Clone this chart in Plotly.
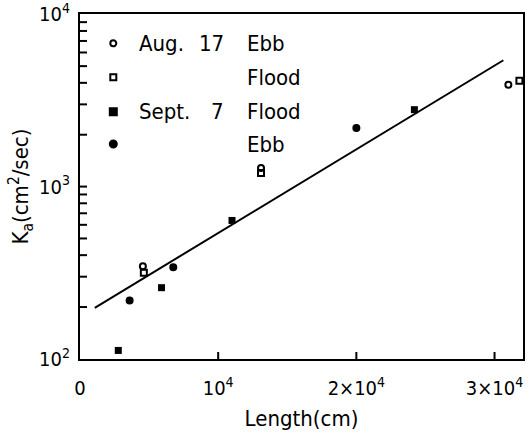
import math
import plotly.graph_objects as go

# ---- data ----
aug_ebb_len = [4550, 13100, 31000]
aug_ebb_k = [345, 1280, 3900]
aug_flood_len = [4620, 13100, 31800]
aug_flood_k = [316, 1200, 4110]
sep_flood_len = [2770, 5900, 11000, 24200]
sep_flood_k = [112, 259, 636, 2794]
sep_ebb_len = [3590, 6750, 20000]
sep_ebb_k = [218, 340, 2188]
fit_len = [1070, 30640]
fit_k = [198, 5410]

x_tickvals = [0, 10000, 20000, 30000]
x_ticktext = ["0", "10<sup>4</sup>", "2×10<sup>4</sup>", "3×10<sup>4</sup>"]
y_tickvals = [100, 1000, 10000]
y_ticktext = ["10<sup>2</sup>", "10<sup>3</sup>", "10<sup>4</sup>"]
y_minor = [m * 10 ** e for e in (2, 3) for m in range(2, 10)]

legend_rows = [
    ("Aug.", "17", "Ebb"),
    ("", "", "Flood"),
    ("Sept.", "7", "Flood"),
    ("", "", "Ebb"),
]

FONT = "DejaVu Sans Condensed, Liberation Sans Narrow, DejaVu Sans, sans-serif"
X_RANGE = [0, 32060]
Y_RANGE = [1.9995, 4.0015]

fig = go.Figure()
fig.add_trace(go.Scatter(x=fit_len, y=fit_k, mode="lines",
                         line=dict(color="black", width=2), showlegend=False))
fig.add_trace(go.Scatter(x=aug_ebb_len, y=aug_ebb_k, mode="markers",
                         marker=dict(symbol="circle-open", size=6, color="black",
                                     line=dict(width=2, color="black")), showlegend=False))
fig.add_trace(go.Scatter(x=aug_flood_len, y=aug_flood_k, mode="markers",
                         marker=dict(symbol="square-open", size=6, color="black",
                                     line=dict(width=2, color="black")), showlegend=False))
fig.add_trace(go.Scatter(x=sep_flood_len, y=sep_flood_k, mode="markers",
                         marker=dict(symbol="square", size=7, color="black"), showlegend=False))
fig.add_trace(go.Scatter(x=sep_ebb_len, y=sep_ebb_k, mode="markers",
                         marker=dict(symbol="circle", size=8, color="black"), showlegend=False))

shapes = []
# ---- inside tick marks, placed from the tick value lists ----
def yfrac(v):
    return (math.log10(v) - Y_RANGE[0]) / (Y_RANGE[1] - Y_RANGE[0])
def xfrac(v):
    return (v - X_RANGE[0]) / (X_RANGE[1] - X_RANGE[0])
for v in y_tickvals + y_minor:
    f = yfrac(v)
    if 0.003 < f < 0.997:
        shapes.append(dict(type="line", xref="paper", yref="paper", xsizemode="pixel",
                           xanchor=0, x0=0, x1=7, y0=f, y1=f,
                           line=dict(color="black", width=2)))
for v in x_tickvals:
    f = xfrac(v)
    if 0.003 < f < 0.997:
        shapes.append(dict(type="line", xref="paper", yref="paper", ysizemode="pixel",
                           yanchor=0, y0=0, y1=7, x0=f, x1=f,
                           line=dict(color="black", width=2)))

# ---- hand-drawn style legend ----
W, H = 443.0, 345.0
row_y_px = [43.3, 77.3, 111.7, 144.0]
def py(y):
    return (359.0 - y) / H
mx = (113.3 - 80) / W
kinds = ["circle-open", "square-open", "square", "circle"]
for ypx, kind in zip(row_y_px, kinds):
    yy = py(ypx)
    common = dict(xref="paper", yref="paper", xsizemode="pixel", ysizemode="pixel",
                  xanchor=mx, yanchor=yy, line=dict(color="black", width=2))
    if kind == "circle-open":
        shapes.append(dict(type="circle", x0=-3, x1=3, y0=-3, y1=3, **common))
    elif kind == "square-open":
        shapes.append(dict(type="rect", x0=-3, x1=3, y0=-3, y1=3, **common))
    elif kind == "square":
        shapes.append(dict(type="rect", x0=-3.5, x1=3.5, y0=-3.5, y1=3.5, fillcolor="black", **common))
    else:
        shapes.append(dict(type="circle", x0=-3.5, x1=3.5, y0=-3.5, y1=3.5, fillcolor="black", **common))

annotations = []
tf = dict(family=FONT, size=22, color="black")
for ypx, (a, b, c) in zip(row_y_px, legend_rows):
    yy = py(ypx)
    if a:
        annotations.append(dict(xref="paper", yref="paper", x=(136.7 - 80) / W, y=yy, text=a,
                                showarrow=False, xanchor="left", yanchor="middle", font=tf))
    if b:
        annotations.append(dict(xref="paper", yref="paper", x=(226 - 80) / W, y=yy, text=b,
                                showarrow=False, xanchor="right", yanchor="middle", font=tf))
    annotations.append(dict(xref="paper", yref="paper", x=(245 - 80) / W, y=yy, text=c,
                            showarrow=False, xanchor="left", yanchor="middle", font=tf))

fig.update_layout(
    width=532, height=437,
    margin=dict(l=80, r=9, t=14, b=78),
    paper_bgcolor="white", plot_bgcolor="white",
    font=dict(family=FONT, size=20, color="black"),
    shapes=shapes, annotations=annotations,
    showlegend=False,
)
fig.update_xaxes(
    range=X_RANGE, tickmode="array", tickvals=x_tickvals, ticktext=x_ticktext,
    ticks="",
    showline=True, linewidth=2, linecolor="black", mirror=True,
    showgrid=False, zeroline=False,
    title=dict(text="Length(cm)", font=dict(size=22), standoff=12),
    tickfont=dict(size=20), ticklabelstandoff=10, ticklabeloverflow="allow",
    automargin=False,
)
fig.update_yaxes(
    type="log", range=Y_RANGE, tickmode="array", tickvals=y_tickvals, ticktext=y_ticktext,
    ticks="",
    showline=True, linewidth=2, linecolor="black", mirror=True,
    showgrid=False, zeroline=False,
    title=dict(text="K<sub>a</sub>(cm<sup>2</sup>/sec)", font=dict(size=22), standoff=4),
    tickfont=dict(size=20), ticklabelstandoff=4, ticklabeloverflow="allow", automargin=False,
)
fig.write_html("out.html")
